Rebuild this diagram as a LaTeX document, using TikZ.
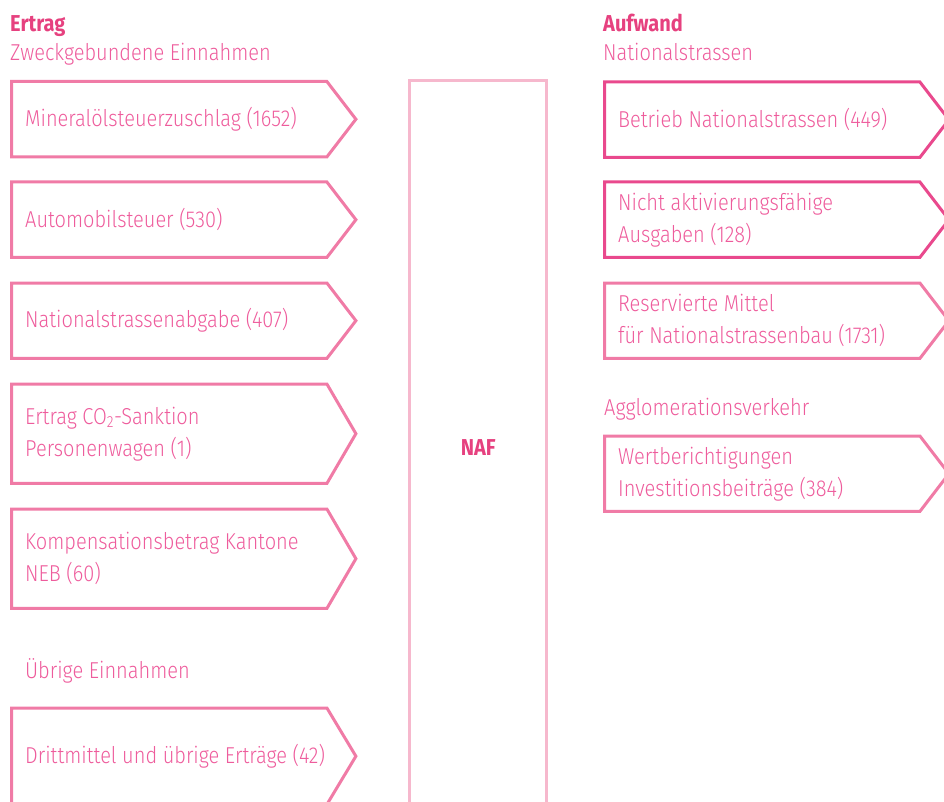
\documentclass[tikz,border=0pt]{standalone}
\usepackage{fontspec}
\setmainfont{Fira Sans}[UprightFont=* Light, BoldFont=* Bold, FakeStretch=0.87]
\usepackage{tikz}

\definecolor{signlight}{HTML}{F07BA6}
\definecolor{signdark}{HTML}{E9498D}
\definecolor{nafline}{HTML}{F6B8CD}
\definecolor{signtext}{HTML}{EE5C9C}
\definecolor{headpink}{HTML}{E6417F}

\tikzset{
	head/.style={anchor=base west, inner sep=0pt, text=signtext, font=\fontsize{23}{32}\selectfont},
	signbox/.style={anchor=north west, inner xsep=13.5pt, inner ysep=0pt, text width=288pt, align=flush left, text=signtext, font=\fontsize{23}{32}\selectfont},
	outline/.style={line width=3pt, line join=miter, draw=#1},
}

\begin{document}
\begin{tikzpicture}[x=1pt,y=-1pt]

	\useasboundingbox (0,0) rectangle (944,802);
	\clip (0,0) rectangle (944,802);

	% headings
	\node[head, text=headpink] (ertrag) at (10,32)  {\textbf{Ertrag}};
	\node[head] (zweck)  at (10,61)  {Zweckgebundene Einnahmen};
	\node[head, text=headpink] (aufwand) at (603,32) {\textbf{Aufwand}};
	\node[head] (natstr) at (603,61) {Nationalstrassen};
	\node[head] (agglo)  at (604,415) {Agglomerationsverkehr};
	\node[head] (uebrig) at (25,678) {Übrige Einnahmen};

	% Ertrag
	\node[signbox, minimum height=75]  (mineral) at (11.5,81.5) {Mineralölsteuerzuschlag (1652)};
	\node[signbox, minimum height=75]  (auto)    at (11.5,182)  {Automobilsteuer (530)};
	\node[signbox, minimum height=75]  (vignet)  at (11.5,283)  {Nationalstrassenabgabe (407)};
	\node[signbox, minimum height=99]  (co)      at (11.5,384)  {Ertrag CO\textsubscript{2}-Sanktion\\Personenwagen (1)};
	\node[signbox, minimum height=99]  (kompens) at (11.5,509)  {Kompensationsbetrag Kantone\\NEB (60)};
	\node[signbox, minimum height=96]  (dritt)   at (11.5,708)  {\mbox{Drittmittel und übrige Erträge (42)}};

	% NAF
	\node[anchor=north west, minimum width=137, minimum height=732, inner sep=0pt,
		text=headpink, font=\fontsize{23}{32}\selectfont\bfseries] (naf) at (409.5,81) {NAF};
	\draw[outline=nafline] (naf.south west) -- (naf.north west) -- (naf.north east) -- (naf.south east);

	% Aufwand
	\node[signbox, minimum height=75]  (betrieb) at (604.5,82)  {Betrieb Nationalstrassen (449)};
	\node[signbox, minimum height=75]  (nicht)   at (604.5,182) {Nicht aktivierungsfähige\\Ausgaben (128)};
	\node[signbox, minimum height=75]  (reserv)  at (604.5,283) {Reservierte Mittel\\für Nationalstrassenbau (1731)};
	\node[signbox, minimum height=75]  (wertb)   at (604.5,436) {Wertberichtigungen\\Investitionsbeiträge (384)};

	\foreach \b in {mineral,auto,vignet,co,kompens,dritt,reserv,wertb}
		\draw[outline=signlight] (\b.north west) -- (\b.north east) -- ([xshift=29pt]\b.east) -- (\b.south east) -- (\b.south west) -- cycle;
	\foreach \b in {betrieb,nicht}
		\draw[outline=signdark] (\b.north west) -- (\b.north east) -- ([xshift=29pt]\b.east) -- (\b.south east) -- (\b.south west) -- cycle;

\end{tikzpicture}
\end{document}
